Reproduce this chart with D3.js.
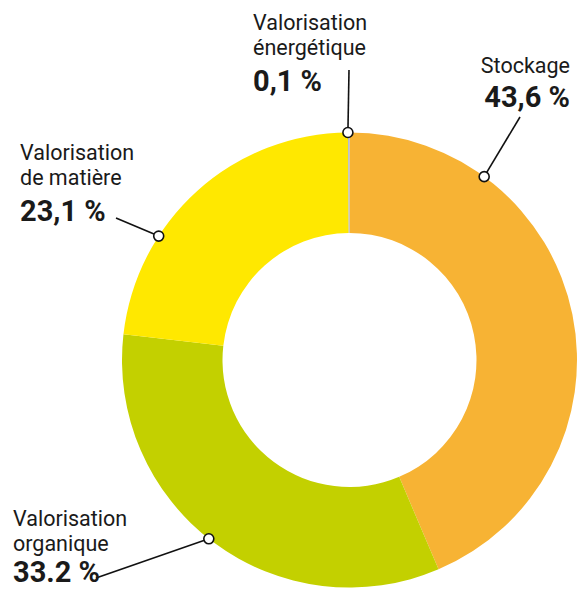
<!DOCTYPE html>
<html><head><meta charset="utf-8">
<script src="https://cdn.jsdelivr.net/npm/d3@7"></script>
<style>body{margin:0;background:#fff}svg{display:block}</style>
</head><body>
<svg id="c" width="579" height="589"></svg>
<script>
const categories = ["Stockage", "Valorisation organique", "Valorisation de matière", "Valorisation énergétique"];
const values = [43.6, 33.2, 23.1, 0.1];
const valueLabels = ["43,6 %", "33.2 %", "23,1 %", "0,1 %"];
const colors = ["#F7B334", "#C3D000", "#FFE800", "#A8B3D4"];
const labelLines = [["Stockage"], ["Valorisation", "organique"], ["Valorisation", "de matière"], ["Valorisation", "énergétique"]];

const svg = d3.select("#c");
const cx = 349.5, cy = 360, R = 227.5, r = 127;
const g = svg.append("g").attr("transform", `translate(${cx},${cy})`);
const pie = d3.pie().sort(null).value(d => d);
const arcs = pie(values);
const arc = d3.arc().innerRadius(r).outerRadius(R);
g.selectAll("path").data(arcs).join("path").attr("d", arc).attr("fill", (d, i) => colors[i]);

const layout = [
  {ang: 36.3, tx: 570, ty: 73, anchor: "end", lx: 520, ly: 117},
  {ang: 218.2, tx: 13, ty: 526, anchor: "start", lx: 96, ly: 578},
  {ang: 303, tx: 20, ty: 160, anchor: "start", lx: 116, ly: 218},
  {ang: 359.6, tx: 253, ty: 30, anchor: "start", lx: 349, ly: 70}
];
const font = "Roboto, 'DejaVu Sans', sans-serif";
layout.forEach((L, i) => {
  const a = L.ang * Math.PI / 180;
  const px = cx + R * Math.sin(a), py = cy - R * Math.cos(a);
  svg.append("line").attr("x1", L.lx).attr("y1", L.ly).attr("x2", px).attr("y2", py)
    .attr("stroke", "#111").attr("stroke-width", 1.6);
  svg.append("circle").attr("cx", px).attr("cy", py).attr("r", 5)
    .attr("fill", "#fff").attr("stroke", "#111").attr("stroke-width", 1.6);
  const t = svg.append("g").attr("font-family", font).attr("fill", "#1a1a1a").attr("text-anchor", L.anchor);
  labelLines[i].forEach((s, k) => {
    t.append("text").attr("x", L.tx).attr("y", L.ty + k * 25).attr("font-size", 21.5).text(s);
  });
  const n = labelLines[i].length;
  const by = Math.min(L.ty + (n - 1) * 25 + 36 - (n === 1 ? 2 : 0), 582);
  t.append("text").attr("x", L.tx).attr("y", by)
    .attr("font-size", 29).attr("font-weight", 700).text(valueLabels[i]);
});
</script>
</body></html>
